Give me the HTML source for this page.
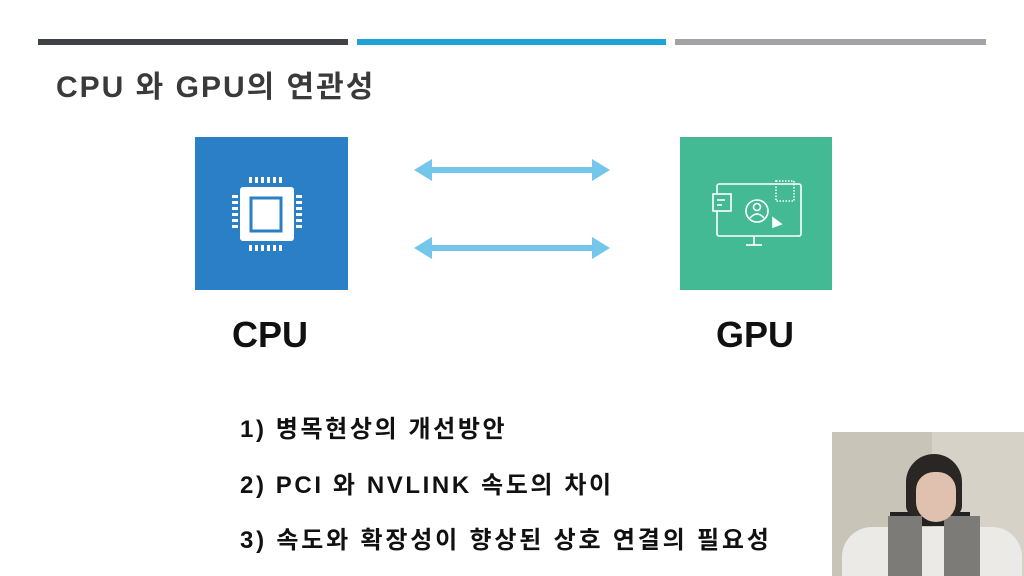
<!DOCTYPE html>
<html><head><meta charset="utf-8"><style>
body{margin:0;width:1024px;height:576px;background:#fff;position:relative;overflow:hidden;font-family:"Liberation Sans","Noto Sans CJK KR",sans-serif;}
.a{position:absolute;}
.t{color:#333;white-space:nowrap;}
</style></head><body>
<div class="a" style="left:38px;top:39px;width:310px;height:6px;background:#3f4347"></div>
<div class="a" style="left:357px;top:39px;width:309px;height:6px;background:#1ea3d8"></div>
<div class="a" style="left:675px;top:39px;width:311px;height:6px;background:#a0a4a7"></div>
<div class="a t" style="left:56px;top:62px;font-size:30px;color:#3a3a3a;font-weight:bold;letter-spacing:2px;">CPU 와 GPU의 연관성</div>
<div class="a" style="left:195px;top:137px;width:153px;height:153px;background:#2a7fc6"></div>
<svg class="a" style="left:195px;top:137px" width="153" height="153">
<g fill="#fff">
<rect x="45" y="50" width="54" height="54" rx="3"/>
<g><rect x="54" y="40" width="3" height="6"/><rect x="60" y="40" width="3" height="6"/><rect x="66" y="40" width="3" height="6"/><rect x="72" y="40" width="3" height="6"/><rect x="78" y="40" width="3" height="6"/><rect x="84" y="40" width="3" height="6"/>
<rect x="54" y="108" width="3" height="6"/><rect x="60" y="108" width="3" height="6"/><rect x="66" y="108" width="3" height="6"/><rect x="72" y="108" width="3" height="6"/><rect x="78" y="108" width="3" height="6"/><rect x="84" y="108" width="3" height="6"/>
<rect x="37" y="58" width="6" height="3"/><rect x="37" y="64" width="6" height="3"/><rect x="37" y="70" width="6" height="3"/><rect x="37" y="76" width="6" height="3"/><rect x="37" y="82" width="6" height="3"/><rect x="37" y="88" width="6" height="3"/>
<rect x="101" y="58" width="6" height="3"/><rect x="101" y="64" width="6" height="3"/><rect x="101" y="70" width="6" height="3"/><rect x="101" y="76" width="6" height="3"/><rect x="101" y="82" width="6" height="3"/><rect x="101" y="88" width="6" height="3"/></g>
</g>
<rect x="56" y="61" width="30" height="33" fill="none" stroke="#2a7fc6" stroke-width="3"/>
</svg>
<div class="a" style="left:680px;top:137px;width:152px;height:153px;background:#43b994"></div>
<svg class="a" style="left:680px;top:137px" width="152" height="153" fill="none" stroke="#fff" stroke-width="1.6">
<rect x="37" y="47" width="84" height="52" rx="2"/>
<line x1="74" y1="99" x2="74" y2="108"/><line x1="66" y1="108" x2="82" y2="108"/>
<rect x="33" y="57" width="18" height="17" fill="#43b994"/><line x1="37" y1="63" x2="45" y2="63"/><line x1="37" y1="68" x2="42" y2="68"/>
<circle cx="77" cy="74" r="11"/><circle cx="77" cy="70" r="3.5"/><path d="M70 81 q7-8 14 0"/>
<rect x="96" y="44" width="18" height="20" stroke-dasharray="1.5 1.5"/>
<path d="M93 90 l0-9 l8 6 z" fill="#fff"/>
</svg>
<svg class="a" style="left:410px;top:155px" width="205" height="110" fill="#74c6ea">
<polygon points="4,15 22,4 22,12 182,12 182,4 200,15 182,26 182,18 22,18 22,26"/>
<polygon points="4,93 22,82 22,90 182,90 182,82 200,93 182,104 182,96 22,96 22,104"/>
</svg>
<div class="a t" style="left:232px;top:314px;font-size:36px;color:#111;font-weight:bold;">CPU</div>
<div class="a t" style="left:716px;top:314px;font-size:36px;color:#111;font-weight:bold;">GPU</div>
<div class="a t" style="left:240px;top:409px;font-size:24px;color:#111;font-weight:bold;letter-spacing:2.6px;">1) 병목현상의 개선방안</div>
<div class="a t" style="left:240px;top:465px;font-size:24px;color:#111;font-weight:bold;letter-spacing:2.6px;">2) PCI 와 NVLINK 속도의 차이</div>
<div class="a t" style="left:240px;top:520px;font-size:24px;color:#111;font-weight:bold;letter-spacing:2.8px;">3) 속도와 확장성이 향상된 상호 연결의 필요성</div>
<div class="a" style="left:832px;top:432px;width:192px;height:144px;background:#c9c4b8;overflow:hidden">
<div class="a" style="left:100px;top:0;width:92px;height:144px;background:#d6d2c8"></div>
<div class="a" style="left:58px;top:80px;width:80px;height:14px;background:#222"></div>
<div class="a" style="left:10px;top:95px;width:180px;height:60px;background:#eceae6;border-radius:30px 30px 0 0"></div>
<div class="a" style="left:56px;top:84px;width:34px;height:60px;background:#7d7b78"></div>
<div class="a" style="left:112px;top:84px;width:36px;height:60px;background:#7d7b78"></div>
<div class="a" style="left:74px;top:22px;width:56px;height:62px;background:#2a2624;border-radius:28px 28px 10px 10px"></div>
<div class="a" style="left:84px;top:40px;width:40px;height:50px;background:#e0c0ae;border-radius:18px 18px 20px 20px"></div>
</div>
</body></html>
